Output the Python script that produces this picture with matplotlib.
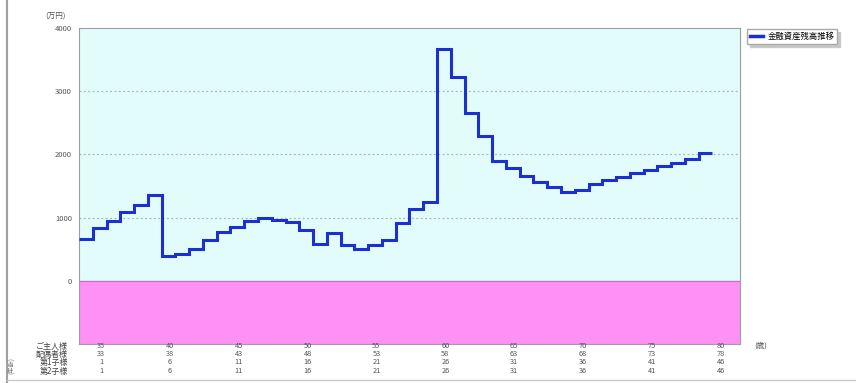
import numpy as np
import matplotlib
matplotlib.use("Agg")
import matplotlib.pyplot as plt
from matplotlib.lines import Line2D
from matplotlib.transforms import blended_transform_factory

plt.rcParams['font.family'] = ['Noto Sans CJK JP', 'DejaVu Sans']

# 金融資産残高 (万円), one value per year
balance = [660, 840, 940, 1095, 1195, 1350, 397, 430, 510, 640,
           767, 857, 941, 990, 960, 930, 810, 590, 760, 560,
           505, 570, 650, 920, 1130, 1240, 3670, 3230, 2650, 2285,
           1895, 1790, 1656, 1560, 1490, 1410, 1444, 1524, 1590, 1650,
           1700, 1760, 1810, 1870, 1930, 2020]

# age table under the chart (every 5 years)
tick_index = [1, 6, 11, 16, 21, 26, 31, 36, 41, 46]
row_names = ["ご主人様", "配偶者様", "第1子様", "第2子様"]
husband_age = [35, 40, 45, 50, 55, 60, 65, 70, 75, 80]
wife_age = [33, 38, 43, 48, 53, 58, 63, 68, 73, 78]
child1_age = [1, 6, 11, 16, 21, 26, 31, 36, 41, 46]
child2_age = [1, 6, 11, 16, 21, 26, 31, 36, 41, 46]

y_ticks = [0, 1000, 2000, 3000, 4000]

fig = plt.figure(figsize=(8.56, 3.83), dpi=100)
ax = fig.add_axes([79/856, 1-344/383, 661/856, 316/383])
ax.set_facecolor('#e2fcfc')
ax.set_xlim(0, 48)
ax.set_ylim(-1000, 4000)

ax.axhspan(-1000, 0, color='#ff90f6', zorder=0)
ax.axhline(0, color='#c070d0', lw=0.8, zorder=1)
for v in y_ticks[1:-1]:
    ax.axhline(v, color='#a8b8b8', lw=0.9, ls=(0, (1.5, 2)), zorder=1)

edges = np.arange(len(balance) + 1)
ax.stairs(balance, edges, baseline=None, color='#1c2fd2', lw=2.2, zorder=3)

ax.set_yticks(y_ticks)
ax.set_yticklabels([str(v) for v in y_ticks], fontsize=5.5, color='#555555')
ax.tick_params(axis='y', length=0, pad=5)
ax.set_xticks([])
for s in ax.spines.values():
    s.set_color('#9aa0a0')
    s.set_linewidth(0.8)

# age table
trans = blended_transform_factory(ax.transData, fig.transFigure)
rows = [husband_age, wife_age, child1_age, child2_age]
row_y = [1-346/383, 1-354/383, 1-362/383, 1-371/383]
for name, vals, yy in zip(row_names, rows, row_y):
    fig.text(68/856, yy, name, fontsize=5.8, ha='right', va='center', color='#444444')
    for i, v in zip(tick_index, vals):
        ax.text(i + 0.6, yy, str(v), transform=trans, fontsize=5.3,
                ha='center', va='center', color='#555555')

fig.text(761/856, 1-346/383, "(歳)", fontsize=5.5, ha='center', va='center', color='#555555')
fig.text(56/856, 1-17/383, "(万円)", fontsize=5.5, ha='center', va='center', color='#555555')
fig.text(12/856, 1-366/383, "(年齢)", fontsize=4.5, ha='center', va='center',
         rotation=90, color='#777777')

# frame lines of the page
fig.add_artist(Line2D([7/856, 7/856], [0, 1], color='#a0a0a0', lw=1.5))
fig.add_artist(Line2D([7/856, 1], [3/383, 3/383], color='#c8c8c8', lw=1.0))

handle = Line2D([], [], color='#1c2fd2', lw=2.5)
fig.legend([handle], ["金融資産残高推移"], loc='upper left',
           bbox_to_anchor=(743/856, 1-25/383), fontsize=6, frameon=True,
           fancybox=False, shadow={'color': '#c8c8c8', 'alpha': 1}, edgecolor='#aaaaaa',
           handlelength=1.5, borderpad=0.35, handletextpad=0.6)

fig.savefig('out.png', dpi=100)
